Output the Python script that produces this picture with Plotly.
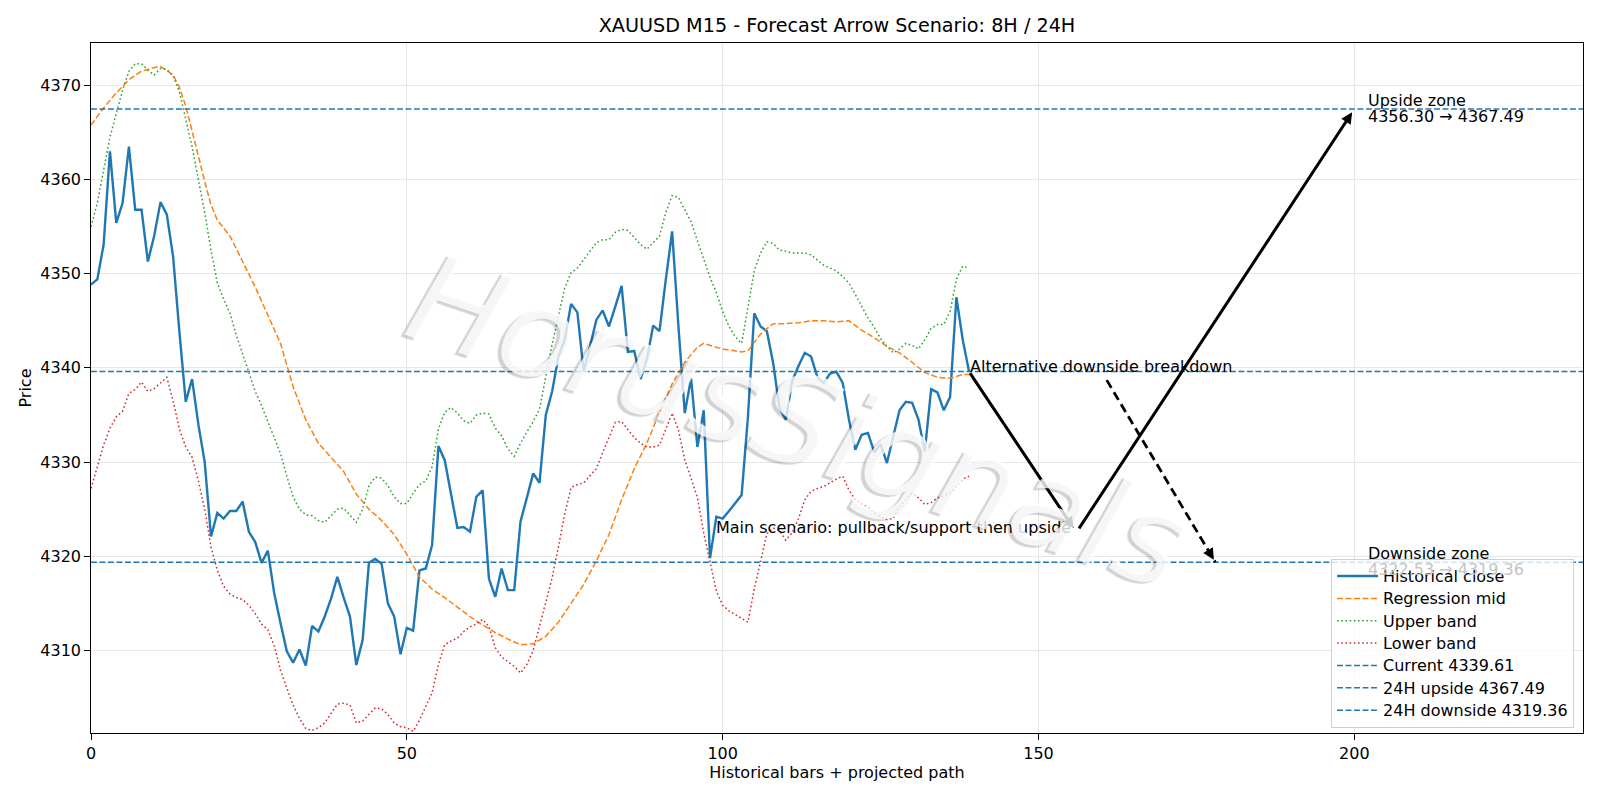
import plotly.graph_objects as go

# ---------------- data ----------------
CLOSE = [4348.85, 4349.4, 4353.1, 4363.0, 4355.4, 4357.5, 4363.5, 4356.8, 4356.8, 4351.3,
         4354.0, 4357.6, 4356.3, 4351.8, 4343.8, 4336.4, 4338.8, 4334.0, 4330.0, 4322.1,
         4324.6, 4324.0, 4324.8, 4324.8, 4325.8, 4322.6, 4321.5, 4319.3, 4320.6, 4316.1,
         4312.9, 4309.9, 4308.7, 4310.1, 4308.4, 4312.6, 4312.0, 4313.6, 4315.5, 4317.8,
         4315.6, 4313.6, 4308.45, 4311.1, 4319.3, 4319.7, 4319.2, 4315.0, 4313.6, 4309.6,
         4312.4, 4312.1, 4318.5, 4318.7, 4321.2, 4331.7, 4330.2, 4326.5, 4323.0, 4323.1,
         4322.6, 4326.3, 4327.0, 4317.6, 4315.7, 4318.7, 4316.4, 4316.4, 4323.7, 4326.2,
         4328.8, 4327.8, 4335.0, 4337.5, 4341.2, 4343.0, 4346.8, 4345.9, 4339.6, 4342.3,
         4345.1, 4346.1, 4344.4, 4346.5, 4348.7, 4341.7, 4341.8, 4338.8, 4340.9, 4344.5,
         4343.9, 4349.4, 4354.5, 4344.4, 4335.2, 4338.9, 4331.6, 4335.5, 4319.8, 4324.2,
         4324.0, 4324.8, 4325.6, 4326.5, 4334.8, 4345.8, 4344.4, 4343.9, 4340.5, 4335.7,
         4334.5, 4338.6, 4340.2, 4341.6, 4341.2, 4339.0, 4338.4, 4339.4, 4339.6, 4338.4,
         4334.5, 4331.3, 4332.9, 4333.1, 4331.05, 4331.9, 4329.9, 4332.7, 4335.5, 4336.4,
         4336.3, 4334.5, 4331.1, 4337.75, 4337.4, 4335.5, 4336.9, 4347.5, 4343.0, 4339.61]
BARS = list(range(len(CLOSE)))

MID_X = [0, 2, 4, 6, 8, 10, 11, 12, 13, 14, 15, 16, 17, 18, 19, 20, 22, 24, 26, 28,
         30, 32, 34, 36, 38, 40, 42, 44, 46, 48, 50, 52, 54, 56, 58, 60, 62, 64, 66, 68,
         70, 72, 74, 76, 78, 80, 82, 84, 86, 88, 90, 92, 94, 96, 97, 100, 103, 104, 106, 108,
         110, 112, 114, 116, 118, 120, 122, 124, 126, 128, 130, 132, 134, 136, 138, 139]
MID_Y = [4365.8, 4367.6, 4369.2, 4370.6, 4371.5, 4371.9, 4372.0, 4371.6, 4371.1, 4369.8,
         4367.8, 4365.3, 4362.5, 4359.8, 4357.3, 4355.7, 4354.0, 4351.3, 4348.6, 4345.6,
         4342.6, 4338.0, 4334.5, 4332.0, 4330.5, 4329.0, 4326.6, 4325.0, 4323.8, 4322.3,
         4320.2, 4317.8, 4316.5, 4315.6, 4314.6, 4313.6, 4312.7, 4311.9, 4311.2, 4310.6,
         4310.7, 4311.5, 4313.0, 4315.0, 4317.0, 4319.5, 4322.3, 4326.0, 4329.3, 4332.0,
         4335.3, 4338.3, 4340.6, 4342.2, 4342.6, 4342.0, 4341.7, 4341.8, 4343.6, 4344.7,
         4344.7, 4344.8, 4345.0, 4345.0, 4344.9, 4345.0, 4344.0, 4343.2, 4342.3, 4341.6,
         4340.6, 4339.5, 4339.0, 4338.9, 4339.3, 4339.3]

UPPER = [4355.0, 4357.5, 4361.0, 4364.5, 4367.0, 4369.5, 4371.5, 4372.3, 4372.3, 4371.6,
         4371.1, 4371.8, 4371.7, 4371.0, 4369.3, 4366.5, 4363.5, 4360.0, 4356.5, 4352.5,
         4349.0, 4347.3, 4345.8, 4343.5, 4341.5, 4339.3, 4337.5, 4336.0, 4334.3, 4332.6,
         4330.9, 4328.5, 4326.3, 4325.0, 4324.4, 4324.3, 4323.8, 4323.6, 4324.3, 4325.0,
         4325.1, 4324.4, 4323.6, 4325.0, 4327.5, 4328.4, 4328.3, 4327.5, 4326.3, 4325.6,
         4325.6, 4326.7, 4327.6, 4328.0, 4329.5, 4333.5, 4335.3, 4335.8, 4335.2, 4334.4,
         4334.1, 4335.0, 4335.2, 4335.1, 4333.6, 4332.8, 4331.4, 4330.6, 4332.0, 4333.2,
         4334.3, 4335.6, 4339.2, 4342.5, 4345.5, 4348.5, 4350.1, 4350.6, 4351.5, 4352.4,
         4353.3, 4353.6, 4353.6, 4354.4, 4354.7, 4354.6, 4353.8, 4353.1, 4352.6, 4353.3,
         4354.0, 4356.5, 4358.3, 4358.1, 4356.8, 4355.5, 4353.5, 4351.5, 4349.6, 4348.0,
         4346.0, 4344.4, 4343.3, 4342.6, 4346.5, 4350.3, 4352.2, 4353.4, 4353.2, 4352.5,
         4352.4, 4352.2, 4352.2, 4352.2, 4352.0, 4351.4, 4350.9, 4350.6, 4350.3, 4349.7,
         4349.0, 4347.8, 4346.5, 4345.3, 4344.3, 4343.1, 4342.3, 4341.6, 4342.0, 4342.6,
         4342.4, 4342.0, 4343.0, 4344.2, 4344.6, 4344.6, 4346.0, 4349.4, 4350.8, 4350.6]

LOWER = [4327.2, 4329.5, 4331.8, 4333.6, 4334.8, 4335.4, 4337.3, 4337.7, 4338.5, 4337.5,
         4337.8, 4338.4, 4339.0, 4336.5, 4333.5, 4331.6, 4330.5, 4328.0, 4325.0, 4321.0,
         4318.5, 4316.8, 4316.0, 4315.6, 4315.4, 4314.8, 4313.9, 4312.8, 4312.2, 4310.5,
         4307.9, 4306.0, 4304.2, 4302.8, 4301.7, 4301.5, 4301.8, 4302.3, 4303.3, 4304.3,
         4304.4, 4304.2, 4302.3, 4302.5, 4303.2, 4303.9, 4303.8, 4303.2, 4302.3, 4301.9,
         4301.8, 4301.4, 4302.6, 4304.0, 4305.5, 4308.5, 4310.6, 4311.0, 4311.3, 4312.0,
         4312.5, 4312.8, 4313.3, 4312.5, 4310.3, 4309.3, 4308.8, 4308.3, 4307.6, 4308.5,
         4310.0, 4312.5, 4315.0, 4317.7, 4321.0, 4324.5, 4327.3, 4327.6, 4327.8, 4328.5,
         4329.3, 4331.0, 4332.6, 4334.2, 4334.3, 4333.4, 4332.6, 4332.0, 4331.6, 4331.6,
         4331.8, 4333.5, 4335.2, 4333.4, 4330.2, 4328.3, 4326.2, 4322.5, 4319.3, 4316.3,
         4314.8, 4314.2, 4313.8, 4313.4, 4313.0, 4316.5, 4319.5, 4322.4, 4323.0, 4322.7,
         4321.7, 4322.5, 4324.0, 4326.0, 4326.9, 4327.2, 4327.4, 4327.8, 4328.2, 4328.5,
         4327.0, 4326.0, 4325.5, 4325.2, 4324.6, 4324.2, 4323.9, 4324.0, 4325.3, 4326.0,
         4326.7, 4326.2, 4325.5, 4325.7, 4326.2, 4326.4, 4326.7, 4327.4, 4328.2, 4328.5]

CURRENT = 4339.61
UPSIDE = 4367.49
DOWNSIDE = 4319.36
PULLBACK = 4322.53
UPSIDE_FROM = 4356.30

# projected scenario path (bar index, price)
MAIN_X = [139, 156, 200]
MAIN_Y = [CURRENT, PULLBACK, UPSIDE]
ALT_X = [160.8, 178]
ALT_Y = [4338.7, DOWNSIDE]

X_RANGE = [0, 236.2]
Y_RANGE = [4301.23, 4374.50]
X_TICKS = [0, 50, 100, 150, 200]
Y_TICKS = [4310, 4320, 4330, 4340, 4350, 4360, 4370]

FONT = "DejaVu Sans"
FS = 16
BLUE = "#1f77b4"


def lg(name):
    # legend label drawn at full text size while the row pitch follows the legend font
    return f'<span style="font-size:{FS}px">{name}</span>'


fig = go.Figure()
fig.add_trace(go.Scatter(x=BARS, y=CLOSE, mode="lines", name=lg("Historical close"),
                         line=dict(color=BLUE, width=2.4)))
fig.add_trace(go.Scatter(x=MID_X, y=MID_Y, mode="lines", name=lg("Regression mid"),
                         line=dict(color="#ff7f0e", width=1.5, dash="5.9px,2.6px")))
fig.add_trace(go.Scatter(x=BARS, y=UPPER, mode="lines", name=lg("Upper band"),
                         line=dict(color="#2ca02c", width=1.5, dash="1.6px,2.6px")))
fig.add_trace(go.Scatter(x=BARS, y=LOWER, mode="lines", name=lg("Lower band"),
                         line=dict(color="#d62728", width=1.5, dash="1.6px,2.6px")))
for val, nm in [(CURRENT, f"Current {CURRENT:.2f}"),
                (UPSIDE, f"24H upside {UPSIDE:.2f}"),
                (DOWNSIDE, f"24H downside {DOWNSIDE:.2f}")]:
    fig.add_trace(go.Scatter(x=X_RANGE, y=[val, val], mode="lines", name=lg(nm),
                             line=dict(color=BLUE, width=1.5, dash="5.9px,2.6px")))

# dashed alternative arrow shaft
fig.add_trace(go.Scatter(x=ALT_X, y=ALT_Y, mode="lines", showlegend=False, hoverinfo="skip",
                         line=dict(color="black", width=2.8, dash="9px,5px")))

ann = []
# main scenario arrows
ann.append(dict(x=MAIN_X[1], y=MAIN_Y[1], ax=MAIN_X[0], ay=MAIN_Y[0], xref="x", yref="y",
                axref="x", ayref="y", showarrow=True, arrowhead=2, arrowsize=0.75,
                arrowwidth=3.0, arrowcolor="black", standoff=5, text=""))
ann.append(dict(x=MAIN_X[2], y=MAIN_Y[2], ax=MAIN_X[1], ay=MAIN_Y[1], xref="x", yref="y",
                axref="x", ayref="y", showarrow=True, arrowhead=2, arrowsize=0.75,
                arrowwidth=3.0, arrowcolor="black", standoff=4, startstandoff=3, text=""))
# alternative arrow head
ann.append(dict(x=ALT_X[1], y=ALT_Y[1], ax=ALT_X[1] - 0.06 * (ALT_X[1] - ALT_X[0]),
                ay=ALT_Y[1] - 0.06 * (ALT_Y[1] - ALT_Y[0]), xref="x", yref="y",
                axref="x", ayref="y", showarrow=True, arrowhead=2, arrowsize=0.8,
                arrowwidth=2.8, arrowcolor="black", standoff=3, text=""))

tf = dict(family=FONT, size=FS, color="black")
ann.append(dict(x=99, y=4323.0, xref="x", yref="y", text="Main scenario: pullback/support then upside",
                showarrow=False, xanchor="left", yanchor="middle", xshift=-2, font=tf))
ann.append(dict(x=139.2, y=4340.15, xref="x", yref="y", text="Alternative downside breakdown",
                showarrow=False, xanchor="left", yanchor="middle", xshift=-2, font=tf))
ann.append(dict(x=202.3, y=UPSIDE, xref="x", yref="y", text="Upside zone",
                showarrow=False, xanchor="left", yanchor="middle", xshift=-3, yshift=8.5, font=tf))
ann.append(dict(x=202.3, y=UPSIDE, xref="x", yref="y", text=f"{UPSIDE_FROM:.2f} → {UPSIDE:.2f}",
                showarrow=False, xanchor="left", yanchor="middle", xshift=-3, yshift=-7.5, font=tf))
ann.append(dict(x=202.3, y=DOWNSIDE, xref="x", yref="y", text="Downside zone",
                showarrow=False, xanchor="left", yanchor="middle", xshift=-3, yshift=8.5, font=tf))
ann.append(dict(x=202.3, y=DOWNSIDE, xref="x", yref="y", text=f"{PULLBACK:.2f} → {DOWNSIDE:.2f}",
                showarrow=False, xanchor="left", yanchor="middle", xshift=-3, yshift=-7.5,
                font=dict(family=FONT, size=FS, color="#c4c4c4")))
# watermark
ann.append(dict(x=0.474, y=0.452, xref="paper", yref="paper", text="HorusSignals",
                showarrow=False, xanchor="center", yanchor="middle", textangle=18.5,
                font=dict(family=FONT, size=124, style="italic", color="rgba(255,255,255,0.8)",
                          shadow="-3px 3px 1px rgba(0,0,0,0.22)")))

axis_common = dict(showline=True, mirror=True, linecolor="black", linewidth=1.3,
                   ticks="outside", ticklen=5.6, tickwidth=1.3, tickcolor="black",
                   showgrid=True, gridcolor="#e6e6e6", gridwidth=1.2, zeroline=False,
                   tickfont=dict(family=FONT, size=FS, color="black"))

fig.update_xaxes(range=X_RANGE, tickvals=X_TICKS,
                 title=dict(text="Historical bars + projected path",
                            font=dict(family=FONT, size=FS, color="black"), standoff=4),
                 **axis_common)
fig.update_yaxes(range=Y_RANGE, tickvals=Y_TICKS,
                 title=dict(text="Price", font=dict(family=FONT, size=FS, color="black"),
                            standoff=4),
                 **axis_common)

fig.update_layout(
    width=1600, height=800,
    margin=dict(l=91, r=17, t=43, b=67),
    paper_bgcolor="white", plot_bgcolor="white",
    font=dict(family=FONT, size=FS, color="black"),
    title=dict(text="XAUUSD M15 - Forecast Arrow Scenario: 8H / 24H", x=0.5, xref="paper",
               xanchor="center", y=1 - 25.5 / 800, yref="container", yanchor="middle",
               font=dict(family=FONT, size=19.2, color="black")),
    legend=dict(x=0.994, y=0.0075, xanchor="right", yanchor="bottom",
                bgcolor="rgba(255,255,255,0.8)", bordercolor="#d0d0d0", borderwidth=1,
                itemwidth=41, traceorder="normal",
                font=dict(family=FONT, size=14.9, color="black")),
    annotations=ann,
    showlegend=True,
)

fig.write_html("out.html")
